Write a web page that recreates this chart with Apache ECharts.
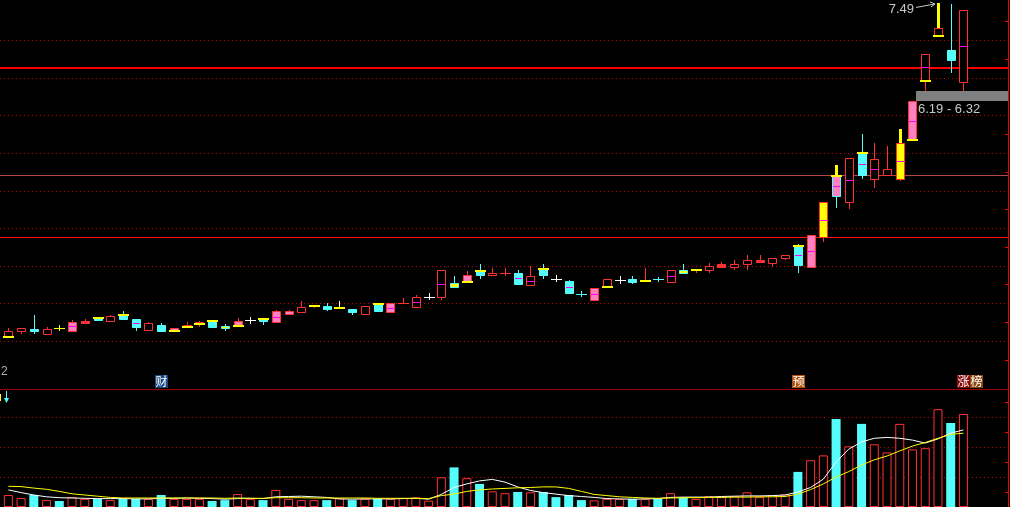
<!DOCTYPE html>
<html><head><meta charset="utf-8">
<script src="https://cdn.jsdelivr.net/npm/echarts@6/dist/echarts.min.js"></script>
<style>html,body{margin:0;padding:0;background:#000;}#c{width:1010px;height:507px;}</style>
</head><body><div id="c"></div>
<script>
// ---------- data ----------
const days = Array.from({length: 76}, (_, i) => 'D' + (i + 1));
const padSlots = ['', '', ''];
const open  = [3.05,3.13,3.16,3.10,3.17,3.14,3.24,3.30,3.26,3.35,3.29,3.15,3.21,3.14,3.18,3.22,3.27,3.20,3.20,3.28,3.29,3.25,3.36,3.39,3.46,3.47,3.44,3.43,3.36,3.49,3.38,3.50,3.45,3.59,3.58,3.77,3.78,3.93,3.88,3.90,3.91,3.74,3.96,3.83,3.80,3.63,3.54,3.72,3.81,3.83,3.80,3.83,3.79,3.95,3.94,3.95,3.99,3.99,4.02,4.05,4.04,4.10,4.27,3.98,4.38,5.20,4.85,5.50,5.15,5.21,5.16,5.67,6.46,7.06,6.87,6.44];
const close = [3.13,3.17,3.14,3.16,3.17,3.25,3.27,3.28,3.33,3.29,3.18,3.24,3.13,3.17,3.21,3.25,3.18,3.17,3.27,3.28,3.26,3.40,3.40,3.45,3.48,3.43,3.44,3.38,3.46,3.40,3.50,3.50,3.58,3.59,3.94,3.72,3.88,3.88,3.91,3.90,3.76,3.86,3.88,3.83,3.64,3.62,3.70,3.82,3.81,3.79,3.80,3.82,3.94,3.90,3.96,4.00,4.02,4.03,4.08,4.08,4.11,4.15,4.01,4.41,4.85,4.93,5.43,5.21,5.42,5.29,5.63,6.19,6.82,7.17,6.74,7.40];
const high  = [3.17,3.17,3.35,3.19,3.21,3.28,3.29,3.30,3.35,3.40,3.29,3.25,3.24,3.17,3.25,3.27,3.27,3.23,3.31,3.32,3.29,3.41,3.41,3.53,3.48,3.50,3.53,3.43,3.46,3.49,3.50,3.57,3.61,3.64,3.94,3.87,3.93,4.03,3.97,3.97,3.95,4.00,4.03,3.88,3.81,3.66,3.70,3.82,3.87,3.87,3.97,3.85,3.94,4.03,3.96,4.04,4.05,4.08,4.15,4.15,4.11,4.15,4.29,4.41,4.85,5.34,5.43,5.75,5.63,5.60,5.82,6.19,6.82,7.49,7.48,7.40];
const low   = [3.05,3.10,3.10,3.10,3.13,3.14,3.23,3.26,3.26,3.28,3.13,3.15,3.12,3.12,3.18,3.19,3.18,3.14,3.20,3.23,3.21,3.25,3.36,3.39,3.44,3.40,3.44,3.35,3.36,3.39,3.38,3.50,3.45,3.54,3.54,3.71,3.78,3.83,3.88,3.86,3.75,3.74,3.83,3.79,3.63,3.59,3.54,3.72,3.76,3.76,3.80,3.79,3.79,3.90,3.90,3.91,3.99,3.95,3.95,4.04,3.99,4.08,3.90,3.98,4.32,4.77,4.76,5.16,5.03,5.21,5.13,5.67,6.32,7.06,6.56,6.33];
// r hollow up, c cyan down, p pink, y yellow, R red filled, x? cross (r/w/y/c)
const kind = ['r','r','c','r','xy','p','R','c','r','c','c','r','c','p','r','r','c','y','p','xw','c','p','p','r','r','c','xw','c','r','c','p','xr','r','xw','r','y','p','c','r','xr','c','r','c','xw','c','xc','p','r','xw','c','xr','xc','r','y','r','r','R','r','r','R','r','r','c','p','y','p','r','c','r','r','y','p','r','r','c','r'];
const midMark = [5,10,21,30,32,34,40,41,44,46,52,62,63,64,65,66,67,68,70,71,72,75];
const openMark = [0,7,9,13,14,15,16,18,20,24,26,29,36,37,42,47,50,54,62,65,67,71,72,73];
const yellowWick = [65,70,73];
const volume = [40,30,40,23,20,33,27,27,23,27,27,27,40,27,27,27,20,23,43,27,23,57,27,23,23,23,29,23,27,27,27,30,32,21,99,132,96,77,52,46,50,49,50,33,40,23,22,27,27,27,27,27,46,33,27,36,33,36,49,33,39,42,117,156,172,293,202,277,209,182,277,192,196,326,280,310];
const volDir = 'rrcrcrrcrc' + 'crcrrrccrr' + 'crrrrcrcrc' + 'rrrrrcrcrr' + 'crccccrrrc' + 'rcrcrrrrrr' + 'rrcrrcrcrr' + 'rrrrcr';
const ma5  = [57,48,40,34,31,30,29,28,28,28,27,27,29,29,30,29,28,26,28,29,28,34,35,36,34,32,27,26,27,27,27,28,29,26,42,65,77,87,92,83,67,55,48,43,38,35,32,28,27,26,27,28,32,33,33,33,35,36,37,37,38,40,50,65,93,150,193,217,229,232,229,223,213,227,246,257];
const ma10 = [69,68,63,59,52,44,40,36,32,30,30,30,30,30,30,30,30,29,30,29,29,31,31,31,30,30,30,30,30,29,29,29,29,28,38,43,52,57,60,62,64,65,67,67,62,52,42,38,34,32,30,29,30,31,31,32,32,33,33,34,34,35,43,58,77,100,118,140,157,170,187,203,215,229,242,246];
const priceGridLevels = [3.0,3.5,4.0,4.5,5.0,5.5,6.0,6.5,7.0];
const priceTickLevels = [2.75,3.25,3.75,4.25,4.75,5.25,5.75,6.25,6.75,7.25];
const keyLevels = [6.63, 5.21, 4.38];
const volGridLevels = [100,200,300];
const volTickLevels = [50,150,250,350];
const gapIdx = 72, gapLow = 6.19, gapHigh = 6.32;
const peakIdx = 73, peakValue = 7.49;
const eventIdx = [12, 62, 75];
const eventText = ['财', '预', '涨榜'];

// ---------- style ----------
const RED = '#ff3232', CYAN = '#54fcfc', PINK = '#ff80c0', YEL = '#ffff00', MAG = '#ff00ff', WHITE = '#ffffff';
const keyStyle = [{color: '#ff0000', w: 2}, {color: '#b04848', w: 1}, {color: '#ff1010', w: 1}];
const eventBg = {'财': ['#1a4a80'], '预': ['#b0520e'], '涨榜': ['#8a0a0a', '#8a4a14']};
const cats = days.concat(padSlots);

function ln(x1, y1, x2, y2, color, w, dash) {
  const st = {stroke: color, lineWidth: w || 1};
  if (dash) st.lineDash = dash;
  return {type: 'line', shape: {x1, y1, x2, y2}, style: st};
}

function renderCandle(params, api) {
  const i = params.dataIndex;
  const o = open[i], c = close[i], h = high[i], l = low[i], k = kind[i];
  const cx = Math.round(api.coord([i, o])[0]);
  const yO = api.coord([i, o])[1], yC = api.coord([i, c])[1];
  const yH = Math.round(api.coord([i, h])[1]), yL = Math.round(api.coord([i, l])[1]);
  const up = c >= o;
  const half = 4;
  const top = Math.round(Math.min(yO, yC)), bot = Math.round(Math.max(yO, yC));
  const ch = [];
  const xc = cx + 0.5;
  if (k[0] === 'x') {
    const col = {r: RED, w: WHITE, y: YEL, c: CYAN}[k[1]];
    ch.push(ln(xc, yH, xc, yL, col));
    ch.push(ln(cx - half - 1, top + 0.5, cx + half + 2, top + 0.5, col));
  } else {
    const col = up ? RED : CYAN;
    ch.push(ln(xc, yH, xc, top, col));
    ch.push(ln(xc, bot, xc, yL, col));
    const fill = {r: '#000', c: CYAN, p: PINK, y: YEL, R: RED}[k];
    ch.push({type: 'rect', shape: {x: cx - half + 0.5, y: top + 0.5, width: 2 * half, height: Math.max(bot - top, 1)},
             style: {fill: fill, stroke: col, lineWidth: 1}});
  }
  if (yellowWick.indexOf(i) >= 0) {
    ch.push({type: 'rect', shape: {x: cx - 1, y: yH, width: 3, height: top - yH}, style: {fill: YEL}});
  }
  if (midMark.indexOf(i) >= 0) {
    const ym = Math.round((yO + yC) / 2) + 0.5;
    ch.push(ln(cx - half + 1, ym, cx + half, ym, MAG));
  }
  if (openMark.indexOf(i) >= 0) {
    const yo = Math.round(yO);
    ch.push({type: 'rect', shape: {x: cx - half - 1, y: yo - 1, width: 2 * half + 3, height: 2}, style: {fill: YEL}});
  }
  return {type: 'group', children: ch};
}

function levelRenderer(levels, styleFor) {
  return function (params, api) {
    const x0 = 0, x1 = params.coordSys.x + params.coordSys.width;
    const ch = levels.map((v, j) => {
      const s = styleFor(j);
      const y = Math.round(api.coord([0, v])[1]) + (s.w % 2 ? 0.5 : 0);
      return ln(x0, y, x1, y, s.color, s.w, s.dash);
    });
    return {type: 'group', children: ch};
  };
}

function renderGap(params, api) {
  const cx = api.coord([gapIdx, gapLow])[0];
  const y1 = api.coord([gapIdx, gapHigh])[1], y2 = api.coord([gapIdx, gapLow])[1];
  const right = params.coordSys.x + params.coordSys.width;
  const x0 = Math.round(cx) - 9;
  return {type: 'group', children: [
    {type: 'rect', shape: {x: x0, y: Math.round(y1), width: right - x0, height: Math.round(y2) - Math.round(y1)}, style: {fill: '#808080'}},
    {type: 'text', x: x0 + 2, y: Math.round(y2) + 2, style: {text: gapLow.toFixed(2) + ' - ' + gapHigh.toFixed(2), fill: '#c8c8c8', font: '13px "Liberation Sans"', textVerticalAlign: 'top'}}
  ]};
}

function renderPeak(params, api) {
  const p = api.coord([peakIdx, peakValue]);
  const cx = Math.round(p[0]), cy = p[1];
  const hx = cx - 3, hy = cy + 0.5;
  const tx = cx - 22, ty = cy + 4;
  return {type: 'group', children: [
    {type: 'text', x: tx - 2, y: cy + 6, style: {text: peakValue.toFixed(2), fill: '#c8c8c8', font: '13px "Liberation Sans"', textAlign: 'right', textVerticalAlign: 'middle'}},
    ln(tx, ty, hx, hy, '#c8c8c8'),
    ln(hx, hy, hx - 5, hy - 2, '#c8c8c8'),
    ln(hx, hy, hx - 4, hy + 3, '#c8c8c8')
  ]};
}

function renderEvents(params, api) {
  const i = params.dataIndex;
  const cx = api.coord([eventIdx[i], 0])[0];
  const bottom = params.coordSys.y + params.coordSys.height;
  const txt = eventText[i];
  const bgs = eventBg[txt];
  const ch = [];
  const w = 13;
  let x = Math.round(cx) - 6;
  for (let j = 0; j < txt.length; j++) {
    ch.push({type: 'rect', shape: {x: x, y: bottom - 14, width: w, height: 13}, style: {fill: bgs[j % bgs.length]}});
    ch.push({type: 'text', x: x + w / 2, y: bottom - 7.5, style: {text: txt[j], fill: '#ffffff', font: '12px "Noto Sans CJK SC"', textAlign: 'center', textVerticalAlign: 'middle'}});
    x += w;
  }
  return {type: 'group', children: ch};
}

const dotStyle = {color: '#c80000', w: 1, dash: [1, 3]};

const chart = echarts.init(document.getElementById('c'), null, {renderer: 'canvas'});
chart.setOption({
  backgroundColor: '#000000',
  animation: false,
  grid: [
    {left: 2, width: 1006, top: 0, height: 389},
    {left: 2, width: 1006, top: 389, height: 118}
  ],
  xAxis: [
    {type: 'category', data: cats, gridIndex: 0, boundaryGap: true, axisLine: {show: false}, axisTick: {show: false}, axisLabel: {show: false}, splitLine: {show: false}},
    {type: 'category', data: cats, gridIndex: 1, boundaryGap: true, axisLine: {show: false}, axisTick: {show: false}, axisLabel: {show: false}, splitLine: {show: false}}
  ],
  yAxis: [
    {type: 'value', gridIndex: 0, position: 'right', min: 2.362, max: 7.536, scale: true,
     axisLine: {show: true, lineStyle: {color: '#ff0000', width: 1}},
     axisTick: {show: true, inside: true, length: 3, customValues: priceTickLevels, lineStyle: {color: '#ff0000'}},
     axisLabel: {show: false}, splitLine: {show: false}},
    {type: 'value', gridIndex: 1, position: 'right', min: 0, max: 393.3,
     axisLine: {show: true, lineStyle: {color: '#ff0000', width: 1}},
     axisTick: {show: true, inside: true, length: 3, customValues: volTickLevels, lineStyle: {color: '#ff0000'}},
     axisLabel: {show: false}, splitLine: {show: false}}
  ],
  series: [
    {type: 'custom', xAxisIndex: 0, yAxisIndex: 0, z: 1, silent: true, clip: false,
     data: [[0, priceGridLevels[0]]], encode: {x: 0, y: 1},
     renderItem: levelRenderer(priceGridLevels, () => dotStyle)},
    {type: 'custom', xAxisIndex: 0, yAxisIndex: 0, z: 2, silent: true, clip: false,
     data: [[0, keyLevels[0]]], encode: {x: 0, y: 1},
     renderItem: levelRenderer(keyLevels, j => keyStyle[j])},
    {type: 'custom', xAxisIndex: 0, yAxisIndex: 0, z: 3, silent: true,
     data: days.map((d, i) => [i, open[i], close[i], low[i], high[i]]),
     encode: {x: 0, y: [1, 2, 3, 4]}, renderItem: renderCandle},
    {type: 'custom', xAxisIndex: 0, yAxisIndex: 0, z: 4, silent: true,
     data: [[gapIdx, gapLow]], encode: {x: 0, y: 1}, renderItem: renderGap},
    {type: 'custom', xAxisIndex: 0, yAxisIndex: 0, z: 4, silent: true, clip: false,
     data: [[peakIdx, peakValue]], encode: {x: 0, y: 1}, renderItem: renderPeak},
    {type: 'custom', xAxisIndex: 0, yAxisIndex: 0, z: 4, silent: true,
     data: eventIdx.map(i => [i, 3]), encode: {x: 0, y: 1}, renderItem: renderEvents},
    {type: 'custom', xAxisIndex: 1, yAxisIndex: 1, z: 1, silent: true, clip: false,
     data: [[0, volGridLevels[0]]], encode: {x: 0, y: 1},
     renderItem: levelRenderer(volGridLevels, () => dotStyle)},
    {type: 'bar', xAxisIndex: 1, yAxisIndex: 1, barWidth: 9, z: 2, silent: true,
     data: volume.map((v, i) => ({value: v, itemStyle: volDir[i] === 'r'
        ? {color: '#000000', borderColor: RED, borderWidth: 1}
        : {color: CYAN, borderWidth: 0}}))},
    {type: 'line', xAxisIndex: 1, yAxisIndex: 1, data: ma5, symbol: 'none', z: 5, silent: true,
     lineStyle: {color: WHITE, width: 1}},
    {type: 'line', xAxisIndex: 1, yAxisIndex: 1, data: ma10, symbol: 'none', z: 5, silent: true,
     lineStyle: {color: YEL, width: 1}}
  ],
  graphic: [
    {type: 'line', shape: {x1: 0, y1: 389.5, x2: 1008, y2: 389.5}, style: {stroke: '#a00000', lineWidth: 1}, z: 10},
    {type: 'text', x: 1, y: 366, style: {text: '2', fill: '#b0b0b0', font: '12px "Liberation Sans"'}},
    {type: 'line', shape: {x1: 6.5, y1: 391, x2: 6.5, y2: 402}, style: {stroke: CYAN, lineWidth: 1}},
    {type: 'polygon', shape: {points: [[4, 398], [9, 398], [6.5, 403]]}, style: {fill: CYAN}},
    {type: 'rect', shape: {x: 0, y: 394, width: 1, height: 7}, style: {fill: YEL}}
  ]
});
</script>
</body></html>
